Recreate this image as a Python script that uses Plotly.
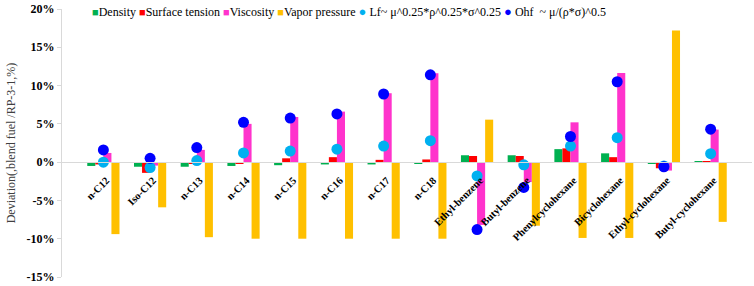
import plotly.graph_objects as go

categories = ["n-C12", "Iso-C12", "n-C13", "n-C14", "n-C15", "n-C16", "n-C17", "n-C18",
              "Ethyl-benzene", "Butyl-benzene", "Phenylcyclohexane", "Bicyclohexane",
              "Ethyl-cyclohexane", "Butyl-cyclohexane"]
density = [-0.5, -0.6, -0.6, -0.5, -0.4, -0.3, -0.3, -0.2, 0.9, 0.9, 1.7, 1.15, -0.2, 0.1]
surface_tension = [-0.3, -1.4, -0.2, -0.2, 0.5, 0.65, 0.3, 0.35, 0.8, 0.8, 1.8, 0.65, -0.8, 0.05]
viscosity = [1.2, -0.45, 1.6, 5.0, 5.9, 6.6, 9.0, 11.6, -8.2, -2.6, 5.2, 11.65, -1.1, 4.25]
vapor_pressure = [-9.4, -5.9, -9.8, -10.0, -10.0, -10.0, -10.0, -10.0, 5.55, -8.3, -9.9, -9.9, 17.2, -7.8]
lf = [0.0, -0.7, 0.2, 1.2, 1.45, 1.7, 2.1, 2.8, -1.8, -0.35, 2.1, 3.2, -0.5, 1.1]
ohf = [1.6, 0.5, 1.9, 5.2, 5.75, 6.3, 8.9, 11.4, -8.8, -3.3, 3.35, 10.5, -0.6, 4.3]

y_tickvals = [-15, -10, -5, 0, 5, 10, 15, 20]
y_ticktext = ["-15%", "-10%", "-5%", "0%", "5%", "10%", "15%", "20%"]
y_range = [-15, 20]

SERIF = "Liberation Serif, Times New Roman, Times, serif"

bar_series = [
    ("Density", density, "#00B050"),
    ("Surface tension", surface_tension, "#FF0000"),
    ("Viscosity", viscosity, "#FF33CC"),
    ("Vapor pressure", vapor_pressure, "#FFC000"),
]
marker_series = [
    ("Lf~ μ^0.25*ρ^0.25*σ^0.25", lf, "#00B0F0"),
    ("Ohf  ~ μ/(ρ*σ)^0.5", ohf, "#0000FF"),
]

fig = go.Figure()
for name, vals, col in bar_series:
    fig.add_trace(go.Bar(x=categories, y=vals, name=name, marker_color=col,
                         marker_line_width=0, showlegend=False))
for name, vals, col in marker_series:
    fig.add_trace(go.Scatter(x=categories, y=vals, name=name, mode="markers",
                             marker=dict(color=col, size=11), showlegend=False))

# Compact Excel-like legend as rich text
parts = []
for name, _, col in bar_series:
    parts.append(f"<span style='color:{col};font-size:11px'>■</span>{name}")
for name, _, col in marker_series:
    parts.append(f"<span style='color:{col};font-size:13px'>●</span> {name}")
legend_text = " ".join(parts)

fig.add_annotation(text=legend_text, xref="paper", yref="paper", x=0.04, y=0.99,
                   xanchor="left", yanchor="middle", showarrow=False,
                   font=dict(family=SERIF, size=12, color="#000000"))

zero_pos = (0 - y_range[0]) / (y_range[1] - y_range[0])

fig.update_layout(
    width=754, height=286,
    margin=dict(l=62, r=2, t=8, b=8),
    paper_bgcolor="white", plot_bgcolor="white",
    barmode="group", bargap=0.31, bargroupgap=0,
    font=dict(family=SERIF, color="#000000"),
    xaxis=dict(anchor="free", position=zero_pos, showline=True, linecolor="#D9D9D9",
               linewidth=1, showgrid=False, ticks="", tickangle=-45,
               ticklabelstandoff=7, ticklabelshift=3,
               tickfont=dict(family=SERIF, size=10.5, color="#000000", weight="bold")),
    yaxis=dict(range=y_range, tickvals=y_tickvals, ticktext=y_ticktext, showgrid=False,
               zeroline=False, showline=True, linecolor="#D9D9D9", linewidth=1,
               ticks="outside", ticklen=4, tickcolor="#D9D9D9",
               tickfont=dict(family=SERIF, size=12, color="#000000", weight="bold"),
               title=dict(text="Deviation(,blend fuel /RP-3-1,%)", standoff=8,
                          font=dict(family=SERIF, size=12, color="#404040"))),
)

fig.write_html("out.html", config={"displayModeBar": False},
               post_script="document.body.style.margin='0';")
